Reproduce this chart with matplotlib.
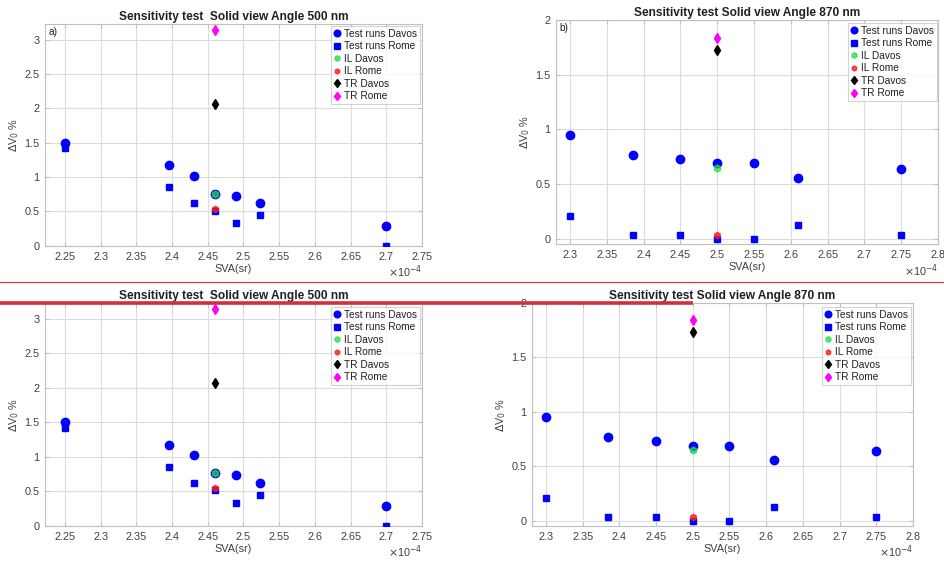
import matplotlib
matplotlib.use("Agg")
import matplotlib.pyplot as plt
from matplotlib.lines import Line2D

plt.rcParams['font.family'] = ['Liberation Sans', 'DejaVu Sans']

# ---------------- data (SVA in units of 1e-4 sr, dV0 in %) ----------------
# 500 nm
a_davos_x = [2.25, 2.395, 2.43, 2.46, 2.49, 2.523, 2.70]
a_davos_y = [1.50, 1.17, 1.02, 0.76, 0.73, 0.62, 0.29]
a_rome_x = [2.25, 2.395, 2.43, 2.46, 2.49, 2.523, 2.70]
a_rome_y = [1.42, 0.85, 0.62, 0.51, 0.33, 0.44, 0.00]
a_il_davos = (2.46, 0.76)
a_il_rome = (2.46, 0.54)
a_tr_davos = (2.46, 2.07)
a_tr_rome = (2.46, 3.14)

# 870 nm
b_davos_x = [2.30, 2.385, 2.45, 2.50, 2.55, 2.61, 2.75]
b_davos_y = [0.95, 0.77, 0.73, 0.69, 0.69, 0.56, 0.64]
b_rome_x = [2.30, 2.385, 2.45, 2.50, 2.55, 2.61, 2.75]
b_rome_y = [0.21, 0.04, 0.04, 0.00, 0.00, 0.13, 0.04]
b_il_davos = (2.50, 0.65)
b_il_rome = (2.50, 0.04)
b_tr_davos = (2.50, 1.73)
b_tr_rome = (2.50, 1.84)

labels = ['Test runs Davos', 'Test runs Rome', 'IL Davos', 'IL Rome', 'TR Davos', 'TR Rome']
title_a = 'Sensitivity test  Solid view Angle 500 nm'
title_b = 'Sensitivity test Solid view Angle 870 nm'
xticks_a = [2.25, 2.3, 2.35, 2.4, 2.45, 2.5, 2.55, 2.6, 2.65, 2.7, 2.75]
xticks_b = [2.3, 2.35, 2.4, 2.45, 2.5, 2.55, 2.6, 2.65, 2.7, 2.75, 2.8]
yticks_a = [0, 0.5, 1, 1.5, 2, 2.5, 3]
yticks_b = [0, 0.5, 1, 1.5, 2]

W, H = 944, 561
fig = plt.figure(figsize=(W / 100, H / 100), dpi=100)
fig.patch.set_facecolor('white')

TXT = '#404040'
GRID = '#dcdcdc'
EDGE = '#c0c0c0'


def pax(l, t, r, b):
    return fig.add_axes([l / W, 1 - b / H, (r - l) / W, (b - t) / H])


def fmt(v):
    s = ('%.2f' % v).rstrip('0').rstrip('.')
    return s


def panel(l, t, r, b, xlim, ylim, xticks, yticks, title, dx, dy, rx, ry,
          ilD, ilR, trD, trR, legbox, tag=None, tagpos=None):
    ax = pax(l, t, r, b)
    ax.set_xlim(*xlim)
    ax.set_ylim(*ylim)
    ax.set_xticks(xticks)
    ax.set_xticklabels([fmt(v) for v in xticks])
    ax.set_yticks(yticks)
    ax.set_yticklabels([fmt(v) for v in yticks])
    ax.grid(True, color=GRID, lw=0.8)
    ax.set_axisbelow(True)
    for sp in ax.spines.values():
        sp.set_color(EDGE)
        sp.set_linewidth(0.8)
    ax.tick_params(direction='in', length=3, color=EDGE, labelsize=7.8,
                   labelcolor=TXT, pad=4, top=True, right=True)
    h1, = ax.plot(dx, dy, 'o', color='#0000ff', ms=6, ls='none', zorder=3)
    h2, = ax.plot(rx, ry, 's', color='#0000ff', ms=4.6, ls='none', zorder=3)
    h3, = ax.plot([ilD[0]], [ilD[1]], 'h', color='#22dd44', alpha=0.75, ms=5, ls='none', zorder=4)
    h4, = ax.plot([ilR[0]], [ilR[1]], 'h', color='#ff1a1a', alpha=0.8, ms=4.5, ls='none', zorder=4)
    h5, = ax.plot([trD[0]], [trD[1]], 'd', color='black', ms=5.5, ls='none', zorder=4)
    h6, = ax.plot([trR[0]], [trR[1]], 'd', color='#ff00ff', ms=5.5, ls='none', zorder=4)
    ax.set_title(title, fontsize=8.6, fontweight='bold', color='#202020', pad=3)
    ax.set_xlabel('SVA(sr)', fontsize=7.8, color=TXT, labelpad=2)
    ax.set_ylabel(r'$\Delta$V$_0$ %', fontsize=7.8, color=TXT, labelpad=2)
    ax.text(1.0, -0.08, r'$\times$10$^{-4}$', transform=ax.transAxes,
            fontsize=7.8, color=TXT, ha='right', va='top')
    lx, ly = legbox
    leg = ax.legend([h1, h2, h3, h4, h5, h6], labels, loc='upper right',
                    bbox_to_anchor=(lx / W, 1 - ly / H), bbox_transform=fig.transFigure,
                    fontsize=7.3, frameon=True, fancybox=False, borderpad=0.3,
                    labelspacing=0.24, handlelength=0.6, handletextpad=0.35,
                    borderaxespad=0, markerscale=0.8)
    leg.get_frame().set_edgecolor('#c8c8c8')
    leg.get_frame().set_linewidth(0.8)
    for t_ in leg.get_texts():
        t_.set_color('#202020')
    if tag:
        ax.text(tagpos[0], tagpos[1], tag, transform=ax.transAxes, fontsize=7.3,
                color='#202020', ha='left', va='top')
    return ax


# top left
panel(45, 24, 422, 246, (2.222, 2.75), (-0.005, 3.23), xticks_a, yticks_a, title_a,
      a_davos_x, a_davos_y, a_rome_x, a_rome_y, a_il_davos, a_il_rome, a_tr_davos, a_tr_rome,
      (420, 26), tag='a)', tagpos=(0.01, 0.985))
# top right
panel(556, 20, 938, 244, (2.281, 2.8), (-0.046, 2.0), xticks_b, yticks_b, title_b,
      b_davos_x, b_davos_y, b_rome_x, b_rome_y, b_il_davos, b_il_rome, b_tr_davos, b_tr_rome,
      (937, 23), tag='b)', tagpos=(0.01, 0.985))
# bottom left
panel(45, 303, 422, 526, (2.222, 2.75), (-0.005, 3.23), xticks_a, yticks_a, title_a,
      a_davos_x, a_davos_y, a_rome_x, a_rome_y, a_il_davos, a_il_rome, a_tr_davos, a_tr_rome,
      (420, 307))
# bottom right
panel(532, 303, 913, 526, (2.281, 2.8), (-0.046, 2.0), xticks_b, yticks_b, title_b,
      b_davos_x, b_davos_y, b_rome_x, b_rome_y, b_il_davos, b_il_rome, b_tr_davos, b_tr_rome,
      (911, 307))

# separating red lines
fig.add_artist(Line2D([0, 1], [1 - 282.3 / H] * 2, transform=fig.transFigure,
                      color='#d8353a', lw=0.9, zorder=10))
fig.add_artist(Line2D([0, 693 / W], [1 - 302.7 / H] * 2, transform=fig.transFigure,
                      color='#d0303a', lw=2.6, solid_capstyle='butt', zorder=10))

fig.savefig('out.png', dpi=100)
